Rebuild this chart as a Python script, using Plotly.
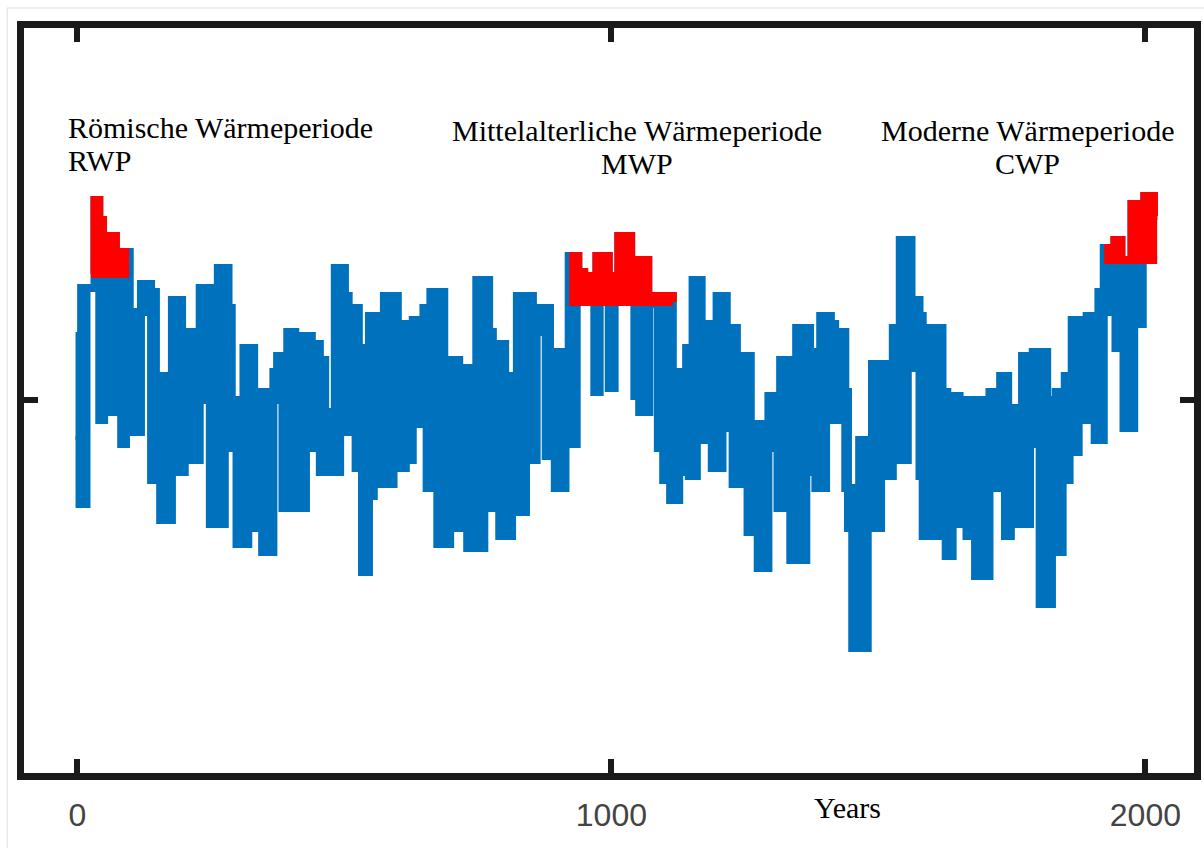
import plotly.graph_objects as go

# ---------------- data ----------------
years = [0, 4, 7, 17, 32, 34, 41, 48, 50, 56, 72, 74, 82, 89, 91, 98, 108, 119, 127, 138, 147,
         155, 164, 177, 184, 196, 201, 209, 216, 223, 229, 238, 248, 263, 276, 283, 289, 298, 311, 320, 331,
         335, 346, 358, 367, 374, 384, 393, 399, 408, 421, 428, 439, 445, 454, 464, 473, 482, 492, 501, 508,
         521, 527, 533, 538, 546, 555, 564, 574, 592, 600, 615, 622, 628, 642, 648, 654, 661, 674, 687, 698,
         715, 730, 747, 762, 771, 778, 790, 801, 814, 823, 840, 853, 860, 877, 885, 894, 907, 914, 920, 922,
         931, 935, 938, 949, 957, 968, 972, 978, 995, 1002, 1006, 1013, 1022, 1037, 1043, 1048, 1052, 1069, 1071, 1087,
         1091, 1093, 1097, 1106, 1110, 1115, 1127, 1132, 1140, 1145, 1152, 1160, 1169, 1177, 1188, 1197, 1208, 1216, 1227, 1235,
         1240, 1255, 1261, 1274, 1285, 1294, 1311, 1316, 1328, 1335, 1346, 1365, 1372, 1382, 1391, 1402, 1411, 1419, 1424, 1438,
         1443, 1451, 1464, 1480, 1488, 1505, 1523, 1527, 1536, 1540, 1555, 1562, 1568, 1577, 1583, 1598, 1616, 1620, 1626, 1629,
         1639, 1652, 1665, 1672, 1681, 1696, 1708, 1721, 1728, 1737, 1743, 1748, 1762, 1769, 1784, 1789, 1802, 1816, 1825, 1832,
         1845, 1849, 1858, 1862, 1875, 1884, 1890, 1905, 1912, 1922, 1925, 1938, 1942, 1944, 1955, 1959, 1974, 1979, 1992, 1995,
         1998, 2003, 2016, 2022]

anomaly = [0.17, -0.09, -0.26, 0.28, 0.28, 0.50, 0.45, -0.05, 0.36, 0.41, -0.03, 0.35, 0.37, -0.11, 0.37, 0.21, -0.08, 0.22, 0.29, 0.27, -0.20,
           0.06, -0.30, -0.05, 0.25, -0.18, 0.17, 0.13, 0.17, -0.15, 0.00, 0.28, 0.17, -0.31, 0.33, 0.23, -0.12, 0.00, -0.36, 0.13, 0.02,
           -0.32, 0.02, -0.38, 0.00, 0.07, 0.11, -0.27, 0.17, -0.21, -0.27, 0.16, -0.12, 0.14, 0.10, -0.18, -0.03, -0.18, 0.33, 0.26, -0.08,
           0.23, -0.17, 0.13, -0.43, -0.24, 0.21, 0.16, -0.21, 0.26, -0.17, 0.19, -0.15, 0.15, 0.20, -0.06, 0.23, -0.22, 0.27, -0.36, 0.10,
           -0.32, 0.08, -0.37, 0.30, 0.17, -0.27, 0.14, -0.34, 0.06, -0.28, 0.26, -0.15, 0.17, 0.23, -0.14, 0.12, -0.22, 0.10, -0.05, 0.36,
           -0.11, 0.36, 0.32, 0.29, 0.31, 0.29, 0.02, 0.36, 0.31, 0.03, 0.31, 0.28, 0.41, 0.34, 0.27, 0.01, 0.35, -0.03, 0.26, 0.24,
           -0.12, 0.24, 0.26, -0.20, 0.26, -0.25, 0.02, 0.07, -0.18, 0.13, -0.19, 0.30, -0.10, 0.19, 0.16, -0.17, 0.26, -0.07, 0.18, -0.21,
           0.05, 0.11, -0.33, -0.06, -0.42, -0.12, 0.01, -0.27, 0.10, 0.01, -0.40, 0.18, -0.18, 0.12, -0.22, 0.21, 0.19, -0.05, 0.17, 0.02,
           -0.22, -0.32, -0.62, -0.10, -0.32, 0.09, -0.19, 0.07, 0.18, -0.15, 0.40, 0.08, 0.25, 0.21, -0.19, -0.34, 0.18, -0.09, 0.02, -0.39,
           0.01, -0.31, 0.00, -0.34, 0.00, -0.44, -0.03, 0.02, -0.22, 0.06, -0.34, -0.02, -0.02, -0.31, 0.11, -0.11, 0.12, -0.51, 0.00, -0.38,
           0.02, -0.20, 0.06, -0.13, 0.20, 0.10, -0.05, 0.21, -0.10, 0.27, 0.38, 0.22, 0.38, 0.40, 0.13, 0.35, -0.07, 0.49, 0.19, 0.49,
           0.42, 0.51, 0.46, 0.46]

period_names = ["Römische Wärmeperiode", "Mittelalterliche Wärmeperiode", "Moderne Wärmeperiode"]
period_abbr = ["RWP", "MWP", "CWP"]
period_start = [26, 921, 1923]
period_end = [97, 1115, 2022]
period_threshold = [0.305, 0.235, 0.34]

x_ticks = [0, 1000, 2000]
x_tick_labels = ["0", "1000", "2000"]
y_ticks = [0]

# ---------------- style / layout ----------------
W, H = 1204, 848
ML, MR, MT, MB = 24, 3, 28, 75
PLOT_H = H - MT - MB
X_RANGE = [-100, 2091]
Y_RANGE = [-0.9325, 0.93]
LW = 8
BLUE = "#0072BD"
RED = "#FF0000"
FRAME = "#1a1a1a"
SERIF = "Liberation Serif, Times New Roman, serif"
SANS = "Liberation Sans, Arial, sans-serif"

half_lw = LW / 2 * (Y_RANGE[1] - Y_RANGE[0]) / PLOT_H

# the dense series is drawn as the band it sweeps between successive readings
upper = [max(a, b) for a, b in zip(anomaly[:-1], anomaly[1:])] + [anomaly[-1]]
lower = [min(a, b) for a, b in zip(anomaly[:-1], anomaly[1:])] + [anomaly[-1]]


def step_value(arr, t):
    v = arr[0]
    for yr, a in zip(years, arr):
        if yr <= t:
            v = a
    return v


fig = go.Figure()
fig.add_trace(go.Scatter(x=years, y=lower, mode="lines",
                         line=dict(color=BLUE, width=LW, shape="hv", simplify=False),
                         hoverinfo="skip", showlegend=False))
fig.add_trace(go.Scatter(x=years, y=upper, mode="lines", fill="tonexty", fillcolor=BLUE,
                         line=dict(color=BLUE, width=LW, shape="hv", simplify=False),
                         hoverinfo="skip", showlegend=False))

for s, e, thr in zip(period_start, period_end, period_threshold):
    base = thr + half_lw
    xs = [s] + [yr for yr in years if s < yr < e] + [e]
    vs = [step_value(upper, s)] + [u for yr, u in zip(years, upper) if s < yr < e] + [step_value(upper, e)]
    ys = [max(v, base) for v in vs]
    fig.add_trace(go.Scatter(x=[s, e], y=[base, base], mode="lines",
                             line=dict(color=RED, width=LW), hoverinfo="skip", showlegend=False))
    fig.add_trace(go.Scatter(x=xs, y=ys, mode="lines", fill="tonexty", fillcolor=RED,
                             line=dict(color=RED, width=LW, shape="hv", simplify=False),
                             hoverinfo="skip", showlegend=False))

# period labels (positions in data coordinates)
label_x = [-22, 1048, 1780]
label_anchor = ["left", "center", "center"]
label_y1 = [0.6825, 0.675, 0.675]
label_y2 = [0.60, 0.5925, 0.5925]
for name, abbr, lx, anc, ly1, ly2 in zip(period_names, period_abbr, label_x, label_anchor, label_y1, label_y2):
    fig.add_annotation(x=lx, y=ly1, xref="x", yref="y", text=name, showarrow=False,
                       xanchor=anc, yanchor="middle", font=dict(family=SERIF, size=30, color="#000"))
    fig.add_annotation(x=lx, y=ly2, xref="x", yref="y", text=abbr, showarrow=False,
                       xanchor=anc, yanchor="middle", font=dict(family=SERIF, size=30, color="#000"))

fig.add_annotation(x=0.704, y=-0.046, xref="paper", yref="paper", text="Years", showarrow=False,
                   xanchor="center", yanchor="middle", font=dict(family=SERIF, size=30, color="#000"))

# faint outer border of the picture
fig.add_shape(type="rect", xref="paper", yref="paper", x0=-0.0144, y0=-1, x1=2, y1=1.0269,
              line=dict(color="#dddddd", width=1), fillcolor="rgba(0,0,0,0)", layer="below")

axis_common = dict(showline=True, linecolor=FRAME, linewidth=7, mirror="ticks",
                   ticks="inside", ticklen=14, tickwidth=6, tickcolor=FRAME,
                   showgrid=False, zeroline=False, fixedrange=True)

fig.update_xaxes(range=X_RANGE, tickvals=x_ticks, ticktext=x_tick_labels,
                 tickfont=dict(family=SANS, size=32, color="#444"), ticklabelstandoff=8,
                 **axis_common)
fig.update_yaxes(range=Y_RANGE, tickvals=y_ticks, showticklabels=False, **axis_common)

fig.update_layout(width=W, height=H, margin=dict(l=ML, r=MR, t=MT, b=MB),
                  plot_bgcolor="white", paper_bgcolor="white", showlegend=False)

fig.write_html("out.html", config={"displayModeBar": False},
               post_script="document.body.style.margin='0';document.body.style.overflow='hidden';")
